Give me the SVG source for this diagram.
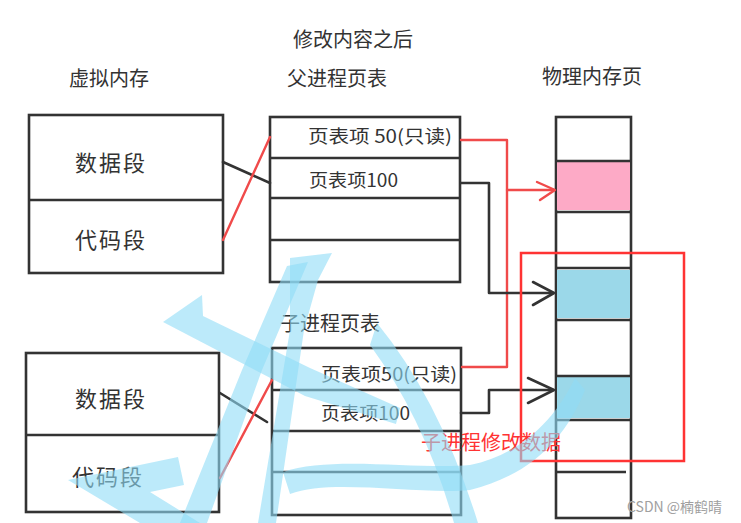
<svg xmlns="http://www.w3.org/2000/svg" width="741" height="523" viewBox="0 0 741 523">
<style>
text{font-family:"Noto Sans CJK SC","Noto Sans",sans-serif;fill:#333}
.t{font-size:20px}
.seg{font-size:22px;letter-spacing:2px}
.pt{font-size:18px}
.box{fill:#fff;stroke:#333;stroke-width:2.6}
.ln{stroke:#333;stroke-width:2.6;fill:none}
.blk{stroke:#333;stroke-width:2.6;fill:none;stroke-linecap:round;stroke-linejoin:round}
.red{stroke:#f04a4a;stroke-width:2.4;fill:none;stroke-linecap:round;stroke-linejoin:round}
.wm{fill:#8fdcf7;opacity:0.6}
</style>
<rect width="741" height="523" fill="#fff"/>

<g id="titles">
<text class="t" x="293" y="47">修改内容之后</text>
<text class="t" x="69" y="86">虚拟内存</text>
<text class="t" x="287" y="86">父进程页表</text>
<text class="t" x="542" y="84">物理内存页</text>
<text class="t" x="280" y="331">子进程页表</text>
</g>

<g id="vm-parent">
<rect class="box" x="29" y="115" width="194" height="158"/>
<line class="ln" x1="29" y1="200" x2="223" y2="200"/>
<text class="seg" x="75" y="171">数据段</text>
<text class="seg" x="75" y="248">代码段</text>
</g>

<g id="vm-child">
<rect class="box" x="26" y="353" width="193" height="159"/>
<line class="ln" x1="26" y1="435" x2="219" y2="435"/>
<text class="seg" x="75" y="407">数据段</text>
<text class="seg" x="72" y="485">代码段</text>
</g>

<g id="pt-parent">
<rect class="box" x="270" y="117" width="190" height="165"/>
<line class="ln" x1="270" y1="158" x2="460" y2="158"/>
<line class="ln" x1="270" y1="198" x2="460" y2="198"/>
<line class="ln" x1="270" y1="240" x2="460" y2="240"/>
<text class="pt" x="308" y="143" textLength="144" lengthAdjust="spacingAndGlyphs">页表项 50(只读)</text>
<text class="pt" x="309" y="187" textLength="89" lengthAdjust="spacingAndGlyphs">页表项100</text>
</g>

<g id="pt-child">
<rect class="box" x="272" y="348" width="189" height="167"/>
<line class="ln" x1="272" y1="390" x2="461" y2="390"/>
<line class="ln" x1="272" y1="431" x2="461" y2="431"/>
<line class="ln" x1="272" y1="472" x2="461" y2="472"/>
<text class="pt" x="321" y="381" textLength="136" lengthAdjust="spacingAndGlyphs">页表项50(只读)</text>
<text class="pt" x="321" y="420" textLength="89" lengthAdjust="spacingAndGlyphs">页表项100</text>
</g>

<g id="phys-mem">
<rect class="box" x="556" y="117" width="75" height="401"/>
<rect x="557" y="162" width="73" height="48" fill="#fdaac6"/>
<rect x="557" y="270" width="73" height="48" fill="#9bd8e9"/>
<rect x="557" y="377" width="73" height="41" fill="#9bd8e9"/>
<line class="ln" x1="556" y1="161" x2="631" y2="161"/>
<line class="ln" x1="556" y1="212" x2="631" y2="212"/>
<line class="ln" x1="556" y1="268" x2="631" y2="268"/>
<line class="ln" x1="556" y1="320" x2="631" y2="320"/>
<line class="ln" x1="556" y1="376" x2="631" y2="376"/>
<line class="ln" x1="556" y1="420" x2="631" y2="420"/>
<line class="ln" x1="556" y1="472" x2="626" y2="472"/>
</g>

<g id="connectors">
<line class="blk" x1="223" y1="162" x2="270" y2="183"/>
<line class="red" x1="223" y1="240" x2="270" y2="137"/>
<line class="blk" x1="220" y1="393" x2="267" y2="422"/>
<line class="red" x1="220" y1="478" x2="272" y2="380"/>
<polyline class="red" points="461,140 507,140 507,367 462,367"/>
<polyline class="red" points="507,190 554,190"/>
<polyline class="red" points="537,182 555,190 540,200"/>
<polyline class="blk" points="461,183 489,183 489,293 553,293"/>
<polyline class="blk" points="533,282 554,293 533,305"/>
<polyline class="blk" points="461,413 489,413 489,390 553,390"/>
<polyline class="blk" points="528,378 554,390 528,403"/>
</g>

<g id="highlight">
<rect x="521" y="253" width="163" height="208" fill="none" stroke="#f33" stroke-width="2.5"/>
<text x="421" y="450" style="font-size:20px;fill:#f33">子进程修改数据</text>
</g>

<g id="watermark">
<path class="wm" d="M290,258 L332,253 L318,280 L304,330 L276,523 L258,523 L290,330 Z"/>
<path class="wm" d="M287,266 L308,262 L262,370 L207,523 L180,523 L242,370 Z"/>
<path class="wm" d="M163,322 L202,295 L203,316 L310,368 L400,408 L396,424 L305,396 Z"/>
<path class="wm" d="M377,323 Q440,400 478,523 L454,523 Q425,420 370,345 Z"/>
<path class="wm" d="M283,472 C330,455 420,470 470,465 C520,455 555,420 575,378 L585,390 C565,440 530,475 470,490 C420,495 330,478 290,494 Z"/>
<path class="wm" d="M68,480 L178,457 L184,485 L150,492 L200,523 L140,523 Z"/>
</g>

<text x="627" y="512" style="font-size:14px;fill:#a0a0a0">CSDN @楠鹤晴</text>
</svg>
